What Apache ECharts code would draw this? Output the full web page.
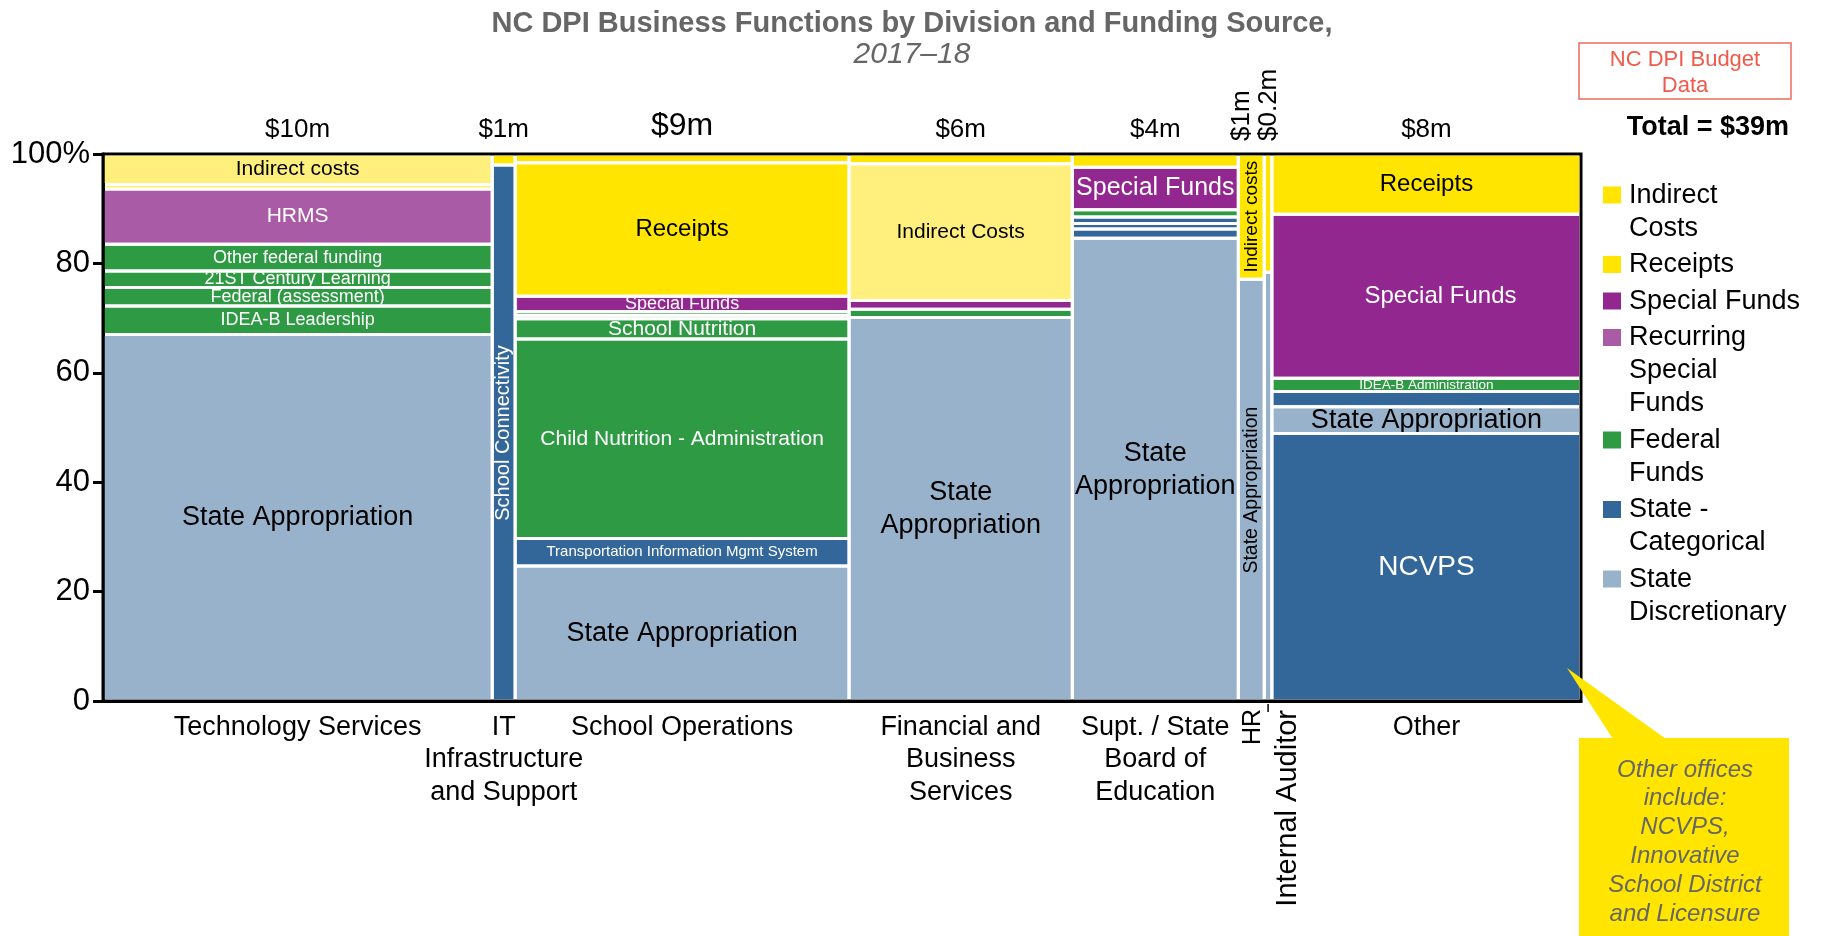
<!DOCTYPE html>
<html><head><meta charset="utf-8">
<script src="https://cdn.jsdelivr.net/npm/echarts@6.0.0/dist/echarts.min.js"></script>
<style>html,body{margin:0;padding:0;background:#fff}#c{width:1824px;height:936px}</style>
</head><body><div id="c"></div>
<script>
// ---------- DATA ----------
const divisions = ['Technology Services', 'IT\nInfrastructure\nand Support', 'School Operations',
  'Financial and\nBusiness\nServices', 'Supt. / State\nBoard of\nEducation', 'HR', 'Internal Auditor', 'Other'];
const divisionTotals = [10.2, 0.6, 8.75, 5.85, 4.35, 0.68, 0.2, 8.1]; // $m
const totalLabels = ['$10m', '$1m', '$9m', '$6m', '$4m', '$1m', '$0.2m', '$8m'];

// shares of each division (% , bottom to top), funding type, label
const techShares = [67.0, 5.2, 3.4, 3.0, 4.9, 10.1, 0.8, 5.6];
const techFunds  = ['disc', 'fed', 'fed', 'fed', 'fed', 'recur', 'rec', 'indL'];
const techLabels = ['State Appropriation', 'IDEA-B Leadership', 'Federal (assessment)', '21ST Century Learning',
  'Other federal funding', 'HRMS', '', 'Indirect costs'];

const itShares = [98.0, 2.0];
const itFunds  = ['cat', 'rec'];
const itLabels = ['School Connectivity', ''];

const schoolShares = [24.7, 5.0, 36.5, 3.7, 0.6, 0.7, 2.8, 24.4, 1.6];
const schoolFunds  = ['disc', 'cat', 'fed', 'fed', 'fed', 'fed', 'spec', 'rec', 'ind'];
const schoolLabels = ['State Appropriation', 'Transportation Information Mgmt System', 'Child Nutrition - Administration',
  'School Nutrition', '', '', 'Special Funds', 'Receipts', ''];

const finShares = [70.1, 1.5, 1.6, 25.0, 1.8];
const finFunds  = ['disc', 'fed', 'spec', 'indL', 'rec'];
const finLabels = ['State\nAppropriation', '', '', 'Indirect Costs', ''];

const suptShares = [84.6, 1.7, 1.0, 1.2, 1.3, 7.8, 2.4];
const suptFunds  = ['disc', 'cat', 'cat', 'cat', 'fed', 'spec', 'rec'];
const suptLabels = ['State\nAppropriation', '', '', '', '', 'Special Funds', ''];

const hrShares = [77.1, 22.9];
const hrFunds  = ['disc', 'ind'];
const hrLabels = ['State Appropriation', 'Indirect costs'];

const auditShares = [78.4, 21.6];
const auditFunds  = ['disc', 'rec'];
const auditLabels = ['', ''];

const otherShares = [48.9, 4.9, 2.8, 2.4, 30.0, 11.0];
const otherFunds  = ['cat', 'disc', 'cat', 'fed', 'spec', 'rec'];
const otherLabels = ['NCVPS', 'State Appropriation', '', 'IDEA-B Administration', 'Special Funds', 'Receipts'];

const yTicks = [0, 20, 40, 60, 80, 100];
const legendNames = ['Indirect\nCosts', 'Receipts', 'Special Funds', 'Recurring\nSpecial\nFunds', 'Federal\nFunds', 'State -\nCategorical', 'State\nDiscretionary'];
const legendKeys  = ['ind', 'rec', 'spec', 'recur', 'fed', 'cat', 'disc'];
const calloutLines = ['Other offices', 'include:', 'NCVPS,', 'Innovative', 'School District', 'and Licensure'];

// ---------- STYLE ----------
const FONT = '"Liberation Sans", Arial, Helvetica, sans-serif';
const fundColors = { ind: '#FFE500', indL: '#FFF07D', rec: '#FFE500', spec: '#92278F', recur: '#A95CA5',
  fed: '#2E9A43', cat: '#336699', disc: '#99B2CB' };
const whiteText = { spec: 1, recur: 1, fed: 1, cat: 1 };
const labelSize = { '0-0': 27, '0-1': 18, '0-2': 18, '0-3': 18, '0-4': 18, '0-5': 21, '0-7': 21,
  '1-0': 20, '2-0': 27, '2-1': 15, '2-2': 21, '2-3': 21, '2-6': 18, '2-7': 24,
  '3-0': 27, '3-3': 21, '4-0': 27, '4-5': 25, '5-0': 19.5, '5-1': 19,
  '7-0': 28, '7-1': 27, '7-3': 13.5, '7-4': 24, '7-5': 24 };
const labelDx = { '7-4': 14 };
const topLabelSize = { 2: 32 };
const rotatedDivs = { 5: { top: -9, bottom: 1.5, down: 8, size: 25 }, 6: { top: 1, bottom: 20, down: 9, size: 29 } };

// ---------- BUILD ----------
const allShares = [techShares, itShares, schoolShares, finShares, suptShares, hrShares, auditShares, otherShares];
const allFunds  = [techFunds, itFunds, schoolFunds, finFunds, suptFunds, hrFunds, auditFunds, otherFunds];
const allLabels = [techLabels, itLabels, schoolLabels, finLabels, suptLabels, hrLabels, auditLabels, otherLabels];

const segData = [], segMeta = [], divData = [];
let xs = 0;
divisions.forEach((d, i) => {
  let ys = 0;
  allShares[i].forEach((s, j) => {
    segData.push({ value: [xs, xs + divisionTotals[i], ys, ys + s] });
    segMeta.push({ div: i, seg: j, fund: allFunds[i][j], label: allLabels[i][j] });
    ys += s;
  });
  divData.push({ value: [xs, xs + divisionTotals[i]] });
  xs += divisionTotals[i];
});
const grandTotal = xs;

function txt(x, y, text, font, fill, align, valign, extra) {
  return Object.assign({ type: 'text', x: x, y: y, style: { text: text, font: font, fill: fill,
    align: align, verticalAlign: valign, lineHeight: (extra && extra.lh) || undefined } },
    extra && extra.rotation ? { rotation: extra.rotation } : {});
}

function renderSeg(params, api) {
  const m = segMeta[params.dataIndex];
  const p0 = api.coord([api.value(0), api.value(3)]);
  const p1 = api.coord([api.value(1), api.value(2)]);
  const x = p0[0] + 1.5, y = p0[1] + 1.5, w = p1[0] - p0[0] - 3, h = p1[1] - p0[1] - 3;
  const children = [{ type: 'rect', shape: { x: x, y: y, width: Math.max(w, 0), height: Math.max(h, 0) },
    style: { fill: fundColors[m.fund] } }];
  if (m.label) {
    const key = m.div + '-' + m.seg;
    const size = labelSize[key] || 20;
    const fill = whiteText[m.fund] ? '#fff' : '#000';
    const narrow = (p1[0] - p0[0]) < 40;
    const cx = x + w / 2 + (labelDx[key] || 0), cy = y + h / 2;
    children.push(txt(cx, cy, m.label, size + 'px ' + FONT, fill, 'center', 'middle',
      { lh: Math.round(size * 1.22), rotation: narrow ? Math.PI / 2 : 0 }));
  }
  return { type: 'group', clipPath: { type: 'rect', shape: { x: x, y: y, width: Math.max(w, 0), height: Math.max(h, 0) } },
    children: children };
}

function renderDiv(params, api) {
  const i = params.dataIndex;
  const x0 = api.value(0), x1 = api.value(1);
  const pb = api.coord([(x0 + x1) / 2, 0]);
  const pt = api.coord([(x0 + x1) / 2, 100]);
  const children = [];
  const rot = rotatedDivs[i];
  if (!rot) {
    children.push(txt(pb[0], pb[1] + 10, divisions[i], '27px ' + FONT, '#000', 'center', 'top', { lh: 32.6 }));
    const ts = topLabelSize[i] || 26;
    children.push(txt(pt[0], pt[1] - (ts > 26 ? 28 : 24), totalLabels[i], ts + 'px ' + FONT, '#000', 'center', 'middle'));
  } else {
    children.push(txt(pb[0] + rot.bottom, pb[1] + rot.down, divisions[i], rot.size + 'px ' + FONT, '#000',
      'right', 'middle', { rotation: Math.PI / 2 }));
    children.push(txt(pt[0] + rot.top, pt[1] - 13, totalLabels[i], '26px ' + FONT, '#000', 'left', 'middle',
      { rotation: Math.PI / 2 }));
    if (divisions[i] === 'Internal Auditor') {
      children.push({ type: 'line', shape: { x1: pb[0], y1: pb[1] + 3, x2: pb[0], y2: pb[1] + 11 },
        style: { stroke: '#000', lineWidth: 1.5 } });
    }
  }
  return { type: 'group', children: children };
}

// legend & annotations
const graphics = [];
const LH = 33.0;
let ly = 195.5;
legendNames.forEach((n, k) => {
  graphics.push({ type: 'rect', shape: { x: 1603, y: ly - 9, width: 18, height: 17 }, style: { fill: fundColors[legendKeys[k]] } });
  graphics.push({ type: 'text', x: 1629, y: ly - LH / 2, style: { text: n, font: '27px ' + FONT, fill: '#000',
    align: 'left', verticalAlign: 'top', lineHeight: LH } });
  ly += n.split('\n').length * LH + 3.5;
});
graphics.push({ type: 'text', x: 1789, y: 128, style: { text: 'Total = $39m', font: 'bold 27px ' + FONT, fill: '#000',
  align: 'right', verticalAlign: 'middle' } });
graphics.push({ type: 'rect', shape: { x: 1579, y: 43, width: 212, height: 56 }, style: { fill: '#fff', stroke: '#F0695F', lineWidth: 1.5 } });
graphics.push({ type: 'text', x: 1685, y: 73, style: { text: 'NC DPI Budget\nData', font: '22px ' + FONT, fill: '#F05A4B',
  align: 'center', verticalAlign: 'middle', lineHeight: 26 } });
graphics.push({ type: 'polygon', z: 100, shape: { points: [[1567, 668], [1613, 739], [1666, 739]] }, style: { fill: '#FFE500' } });
graphics.push({ type: 'rect', z: 100, shape: { x: 1579, y: 738, width: 210, height: 200 }, style: { fill: '#FFE500' } });
graphics.push({ type: 'text', z: 101, x: 1685, y: 770 - 14.4, style: { text: calloutLines.join('\n'), font: 'italic 24px ' + FONT,
  fill: '#666', align: 'center', verticalAlign: 'top', lineHeight: 28.8 } });

const chart = echarts.init(document.getElementById('c'), null, { renderer: 'canvas' });
chart.setOption({
  animation: false,
  backgroundColor: '#fff',
  title: {
    text: 'NC DPI Business Functions by Division and Funding Source,',
    subtext: '2017\u201318',
    left: 'center', top: 4, itemGap: 1,
    textStyle: { fontFamily: FONT, fontSize: 29, fontWeight: 'bold', color: '#666', lineHeight: 30 },
    subtextStyle: { fontFamily: FONT, fontSize: 30, fontStyle: 'italic', color: '#666', lineHeight: 30 }
  },
  grid: { left: 103, right: 243, top: 154, bottom: 235, show: true, borderColor: '#000', borderWidth: 3,
    backgroundColor: 'transparent', containLabel: false, outerBoundsMode: 'none' },
  xAxis: { type: 'value', min: 0, max: grandTotal,
    axisLine: { show: true, lineStyle: { color: '#000', width: 3 } },
    axisTick: { show: false }, axisLabel: { show: false }, splitLine: { show: false } },
  yAxis: { type: 'value', min: yTicks[0], max: yTicks[yTicks.length - 1], interval: yTicks[1] - yTicks[0],
    axisLine: { show: true, lineStyle: { color: '#000', width: 3 } },
    axisTick: { show: true, length: 10, lineStyle: { color: '#000', width: 3 } },
    axisLabel: { fontFamily: FONT, fontSize: 31, color: '#000', margin: 13,
      formatter: v => (v === 100 ? '100%' : String(v)) },
    splitLine: { show: false } },
  series: [
    { type: 'custom', name: 'segments', renderItem: renderSeg, data: segData, encode: { x: [0, 1], y: [2, 3] }, z: 2 },
    { type: 'custom', name: 'divisions', renderItem: renderDiv, data: divData, encode: { x: [0, 1] }, z: 3, clip: false }
  ],
  graphic: graphics
});
</script></body></html>
